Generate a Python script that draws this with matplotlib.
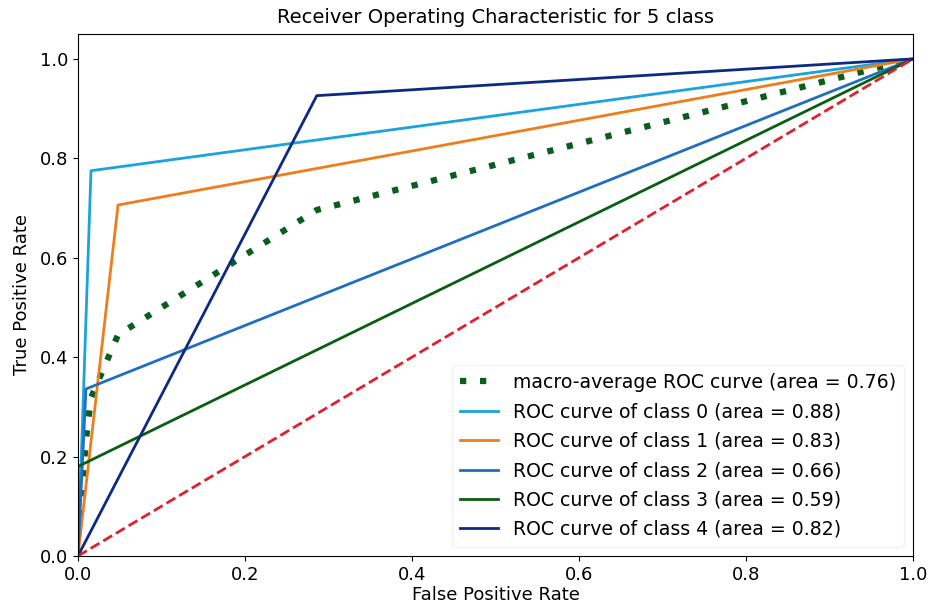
import matplotlib
matplotlib.use("Agg")
import matplotlib.pyplot as plt

# ROC points per class (fpr, tpr)
class_fpr = [
    [0.0, 0.0156, 1.0],
    [0.0, 0.048, 1.0],
    [0.0, 0.0096, 1.0],
    [0.0, 0.0, 1.0],
    [0.0, 0.286, 1.0],
]
class_tpr = [
    [0.0, 0.775, 1.0],
    [0.0, 0.706, 1.0],
    [0.0, 0.336, 1.0],
    [0.0, 0.18, 1.0],
    [0.0, 0.926, 1.0],
]
class_auc = [0.88, 0.83, 0.66, 0.59, 0.82]
class_colors = ["#1aa3dc", "#ef7d1c", "#1f6fc0", "#0b5d12", "#0c2a82"]

macro_fpr = [0.0, 0.003, 0.0096, 0.0156, 0.048, 0.286, 1.0]
macro_tpr = [0.04, 0.10, 0.235, 0.318, 0.445, 0.696, 1.0]
macro_auc = 0.76

plt.rcParams["font.size"] = 13

fig = plt.figure(figsize=(9.37, 6.14), dpi=100)
ax = fig.add_axes([0.0832, 0.0945, 0.8912, 0.8501])

# square dots with wide gaps for the macro average
ax.plot(macro_fpr, macro_tpr, color="#0b5d1e", linestyle=(0, (1, 2.2)), linewidth=4.5,
        label="macro-average ROC curve (area = {0:0.2f})".format(macro_auc))

for i, (fpr, tpr) in enumerate(zip(class_fpr, class_tpr)):
    ax.plot(fpr, tpr, color=class_colors[i], linewidth=2,
            label="ROC curve of class {0} (area = {1:0.2f})".format(i, class_auc[i]))

ax.plot([0, 1], [0, 1], color="#e0202e", linestyle="--", linewidth=2)

ax.set_xlim([0.0, 1.0])
ax.set_ylim([0.0, 1.05])
ax.set_xlabel("False Positive Rate", labelpad=2)
ax.set_ylabel("True Positive Rate", labelpad=6)
ax.set_title("Receiver Operating Characteristic for 5 class", fontsize=14, pad=8)
leg = ax.legend(loc="lower right", fontsize=13.6, labelspacing=0.55)
leg.get_frame().set_edgecolor("#eeeeee")

fig.savefig("out.png", dpi=100)
